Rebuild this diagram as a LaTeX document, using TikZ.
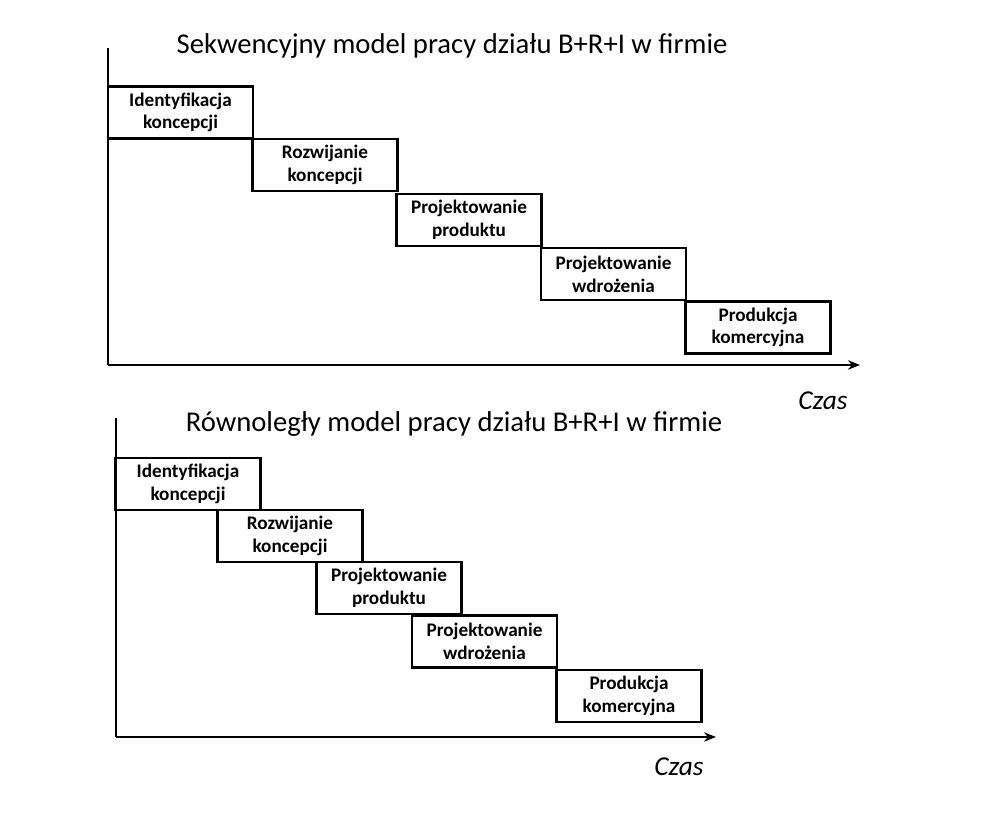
\documentclass[tikz,border=0pt]{standalone}
\usepackage{fontspec}
\setmainfont{Carlito}
\usetikzlibrary{arrows.meta,positioning}
\tikzset{
  etap/.style={draw, line width=1.6pt, minimum width=108.75pt, minimum height=39pt,
    align=center, inner sep=0pt, font=\bfseries\fontsize{14.4}{17}\selectfont},
  os/.style={line width=1.6pt},
  tytul/.style={font=\fontsize{21.5}{24}\selectfont},
  czas/.style={font=\itshape\fontsize{20.5}{23}\selectfont}
}
\begin{document}
\begin{tikzpicture}[x=0.75pt, y=-0.75pt, >={Stealth[length=9pt,width=7pt]}]
		\useasboundingbox (0,0) rectangle (981,820);
		% Model sekwencyjny
		\node[tytul] (t1) at (452,46) {Sekwencyjny model pracy działu B+R+I w firmie};
		\coordinate (s0) at (108,365);
		\coordinate (sy) at (108,48);
		\coordinate (sx) at (860,365);
		\draw[os] (sy) -- (s0);
		\draw[os, ->] (s0) -- (sx);
		\node[czas] (c1) at (823,401) {Czas};
		\node[etap] (a1) at (180.5,112.5) {Identyfikacja\\koncepcji};
		\node[etap] (a2) at (325,165) {Rozwijanie\\koncepcji};
		\node[etap] (a3) at (469,220) {Projektowanie\\produktu};
		\node[etap] (a4) at (613.5,274) {Projektowanie\\wdrożenia};
		\node[etap] (a5) at (758,327.5) {Produkcja\\komercyjna};

		% Model rownolegly
		\node[tytul] (t2) at (454,424) {Równoległy model pracy działu B+R+I w firmie};
		\coordinate (r0) at (116,737);
		\coordinate (ry) at (116,418);
		\coordinate (rx) at (716,737);
		\draw[os] (ry) -- (r0);
		\draw[os, ->] (r0) -- (rx);
		\node[czas] (c2) at (679,767) {Czas};
		\node[etap] (b1) at (188,484) {Identyfikacja\\koncepcji};
		\node[etap] (b2) at (290,536) {Rozwijanie\\koncepcji};
		\node[etap] (b3) at (389,588) {Projektowanie\\produktu};
		\node[etap] (b4) at (484.5,641.5) {Projektowanie\\wdrożenia};
		\node[etap] (b5) at (629,696) {Produkcja\\komercyjna};
\end{tikzpicture}
\end{document}
